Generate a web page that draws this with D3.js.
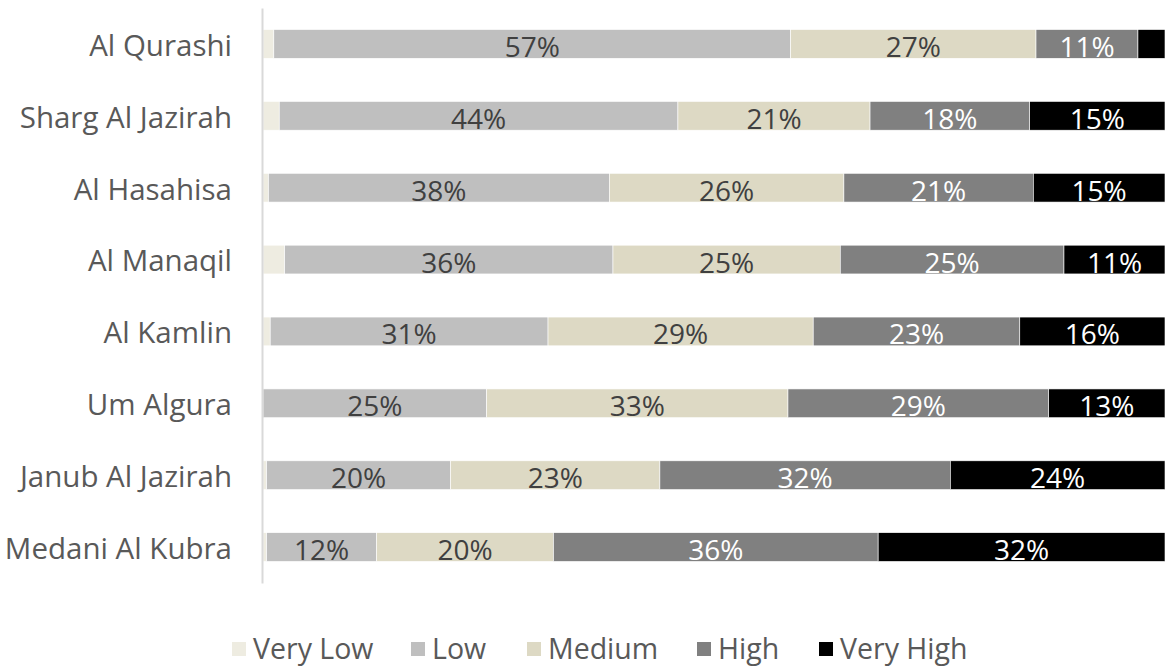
<!DOCTYPE html>
<html>
<head>
<meta charset="utf-8">
<script src="https://cdn.jsdelivr.net/npm/d3@7"></script>
<style>
  body { margin: 0; background: #fff; }
  svg { display: block; font-family: "Open Sans", sans-serif; }
</style>
</head>
<body>
<div id="wrapper"></div>
<script>
// 1. Data
const regions = ["Al Qurashi", "Sharg Al Jazirah", "Al Hasahisa", "Al Manaqil",
  "Al Kamlin", "Um Algura", "Janub Al Jazirah", "Medani Al Kubra"]
const levels = ["Very Low", "Low", "Medium", "High", "Very High"]
const veryLow  = [1.2, 1.8, 0.6, 2.4, 0.8, 0.0, 0.4, 0.4]
const low      = [57.3, 44.2, 37.8, 36.4, 30.8, 24.8, 20.4, 12.2]
const medium   = [27.2, 21.3, 26.0, 25.2, 29.4, 33.4, 23.2, 19.6]
const high     = [11.3, 17.7, 21.0, 24.8, 22.9, 28.9, 32.2, 36.0]
const veryHigh = [3.0, 15.0, 14.6, 11.2, 16.1, 12.9, 23.8, 31.8]
const colors = ["#eeece1", "#bfbfbf", "#ddd9c4", "#808080", "#000000"]
const labelColors = ["#404040", "#404040", "#404040", "#ffffff", "#ffffff"]

const table = regions.map((r, i) => ({
  region: r,
  "Very Low": veryLow[i] / 100,
  "Low": low[i] / 100,
  "Medium": medium[i] / 100,
  "High": high[i] / 100,
  "Very High": veryHigh[i] / 100,
}))

// 2. Dimensions
const width = 1165
const height = 669

const svg = d3.select("#wrapper").append("svg")
  .attr("width", width)
  .attr("height", height)

// 3. Scales
const xScale = d3.scaleLinear().domain([0, 1]).range([263, 1165])
const yScale = d3.scaleBand().domain(regions).range([8, 583])
  .paddingInner(0.6).paddingOuter(0.3)
const color = d3.scaleOrdinal().domain(levels).range(colors)

const series = d3.stack().keys(levels)(table)

// 4. Bars
const layers = svg.append("g").selectAll("g")
  .data(series)
  .join("g")
    .attr("fill", d => color(d.key))

layers.selectAll("rect")
  .data(d => d)
  .join("rect")
    .attr("x", d => xScale(d[0]))
    .attr("y", d => yScale(d.data.region))
    .attr("width", d => xScale(d[1]) - xScale(d[0]))
    .attr("height", yScale.bandwidth())
    .attr("stroke", "#fff")
    .attr("stroke-width", 0.6)

// data labels
layers.each(function(s, li) {
  d3.select(this).selectAll("text")
    .data(s.filter(d => li > 0 && d[1] - d[0] >= 0.05))
    .join("text")
      .attr("x", d => (xScale(d[0]) + xScale(d[1])) / 2)
      .attr("y", d => yScale(d.data.region) + yScale.bandwidth() / 2 + 2)
      .attr("text-anchor", "middle")
      .attr("dominant-baseline", "central")
      .attr("fill", labelColors[li])
      .style("font-size", "28px")
      .text(d => d3.format(".0%")(d[1] - d[0]))
})

// 5. Axis
const yAxis = svg.append("g")
  .attr("transform", "translate(262,0)")
  .call(d3.axisLeft(yScale).tickSize(0).tickPadding(30).tickSizeOuter(0))
yAxis.select(".domain").attr("stroke", "#d9d9d9").attr("stroke-width", 2)
yAxis.selectAll("text")
  .attr("fill", "#595959")
  .attr("dy", "0.4em")
  .style("font-size", "29.5px")
  .style("font-family", "'Open Sans', sans-serif")

// 6. Legend
const legendX = [232, 411, 527, 697, 819]
const legend = svg.append("g").selectAll("g")
  .data(levels)
  .join("g")
    .attr("transform", (d, i) => `translate(${legendX[i]},649)`)
legend.append("rect")
  .attr("y", -7)
  .attr("width", 14)
  .attr("height", 14)
  .attr("fill", d => color(d))
legend.append("text")
  .attr("x", 21)
  .attr("dy", "0.34em")
  .attr("fill", "#595959")
  .style("font-size", "28.5px")
  .text(d => d)
</script>
</body>
</html>
